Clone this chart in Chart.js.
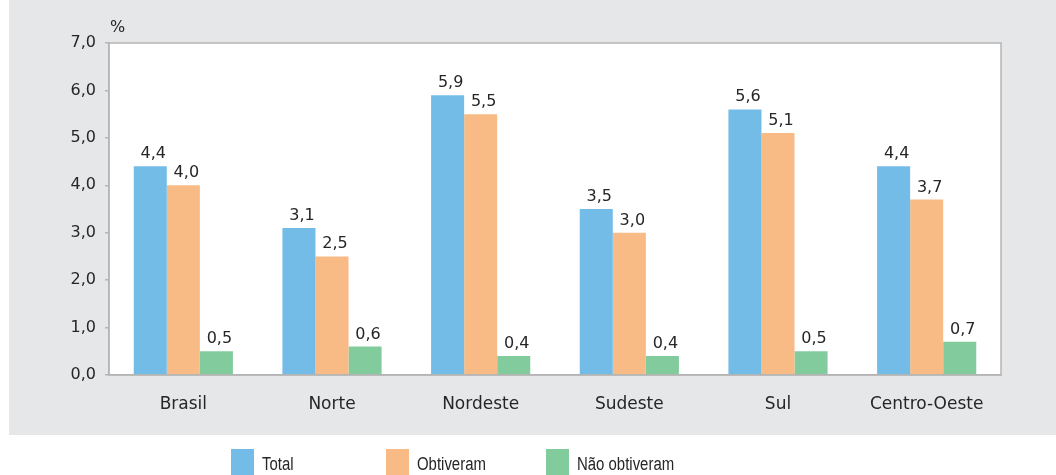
<!DOCTYPE html>
<html>
<head>
<meta charset="utf-8">
<script src="https://cdn.jsdelivr.net/npm/chart.js@4"></script>
<style>
  html, body { margin: 0; padding: 0; background: #ffffff; }
  #wrap { width: 1056px; height: 475px; position: relative; }
</style>
</head>
<body>
<div id="wrap"><canvas id="chart" width="1056" height="475"></canvas></div>
<script>
const categories = ['Brasil', 'Norte', 'Nordeste', 'Sudeste', 'Sul', 'Centro-Oeste'];
const total = [4.4, 3.1, 5.9, 3.5, 5.6, 4.4];
const obtiveram = [4.0, 2.5, 5.5, 3.0, 5.1, 3.7];
const naoObtiveram = [0.5, 0.6, 0.4, 0.4, 0.5, 0.7];
const seriesNames = ['Total', 'Obtiveram', 'Não obtiveram'];
const seriesColors = ['#74bce8', '#f9bb86', '#82cb9c'];

const textColor = '#262626';
const borderGray = '#b5b5b5';
const fmt = v => v.toFixed(1).replace('.', ',');

// gray panel, white plot area, frame, % label
const backdrop = {
    id: 'backdrop',
    beforeDraw(chart) {
        const ctx = chart.ctx;
        const a = chart.chartArea;
        ctx.save();
        ctx.fillStyle = '#e6e7e9';
        ctx.fillRect(9, 0, 1047, 435);
        ctx.fillStyle = '#ffffff';
        ctx.fillRect(a.left, a.top, a.right - a.left, a.bottom - a.top);
        ctx.restore();
    },
    afterDraw(chart) {
        const ctx = chart.ctx;
        const a = chart.chartArea;
        ctx.save();
        ctx.strokeStyle = borderGray;
        ctx.lineWidth = 1.5;
        ctx.strokeRect(a.left, a.top, a.right - a.left, a.bottom - a.top);

        ctx.fillStyle = textColor;
        ctx.font = '16px "DejaVu Sans"';
        ctx.textAlign = 'left';
        ctx.textBaseline = 'alphabetic';
        ctx.fillText('%', 110, 32);

        // legend under the panel (condensed look)
        ctx.font = '18px "Liberation Sans"';
        const boxX = [231, 386, 546];
        chart.data.datasets.forEach((ds, i) => {
            ctx.fillStyle = ds.backgroundColor;
            ctx.fillRect(boxX[i], 449, 23, 30);
            ctx.fillStyle = textColor;
            ctx.save();
            ctx.translate(boxX[i] + 31, 470);
            ctx.scale(0.83, 1);
            ctx.fillText(ds.label, 0, 0);
            ctx.restore();
        });
        ctx.restore();
    }
};

// value labels above bars
const valueLabels = {
    id: 'valueLabels',
    afterDatasetsDraw(chart) {
        const ctx = chart.ctx;
        ctx.save();
        ctx.fillStyle = textColor;
        ctx.font = '16px "DejaVu Sans"';
        ctx.textAlign = 'center';
        ctx.textBaseline = 'alphabetic';
        chart.data.datasets.forEach((ds, i) => {
            chart.getDatasetMeta(i).data.forEach((bar, j) => {
                ctx.fillText(fmt(ds.data[j]), bar.x + 3, bar.y - 8);
            });
        });
        ctx.restore();
    }
};

new Chart(document.getElementById('chart'), {
    type: 'bar',
    data: {
        labels: categories,
        datasets: [
            { label: seriesNames[0], data: total, backgroundColor: seriesColors[0] },
            { label: seriesNames[1], data: obtiveram, backgroundColor: seriesColors[1] },
            { label: seriesNames[2], data: naoObtiveram, backgroundColor: seriesColors[2] },
        ],
    },
    plugins: [backdrop, valueLabels],
    options: {
        responsive: false,
        animation: false,
        datasets: { bar: { categoryPercentage: 0.667, barPercentage: 1.0 } },
        layout: { padding: { left: 0, top: 43, right: 55, bottom: 0 } },
        plugins: {
            legend: { display: false },
            tooltip: { enabled: false },
        },
        scales: {
            x: {
                grid: { display: false },
                border: { display: true, color: borderGray, width: 1.5 },
                ticks: {
                    color: textColor,
                    font: { family: 'DejaVu Sans', size: 17 },
                    padding: 11,
                },
                afterFit: s => { s.height = 100; },
            },
            y: {
                min: 0,
                max: 7,
                grid: { drawOnChartArea: false, color: borderGray, tickLength: 4, lineWidth: 1.5 },
                border: { display: true, color: borderGray, width: 1.5 },
                ticks: {
                    stepSize: 1,
                    color: textColor,
                    font: { family: 'DejaVu Sans', size: 16 },
                    padding: 9,
                    callback: v => fmt(v),
                },
                afterFit: s => { s.width = 109; },
            },
        },
    },
});
</script>
</body>
</html>
